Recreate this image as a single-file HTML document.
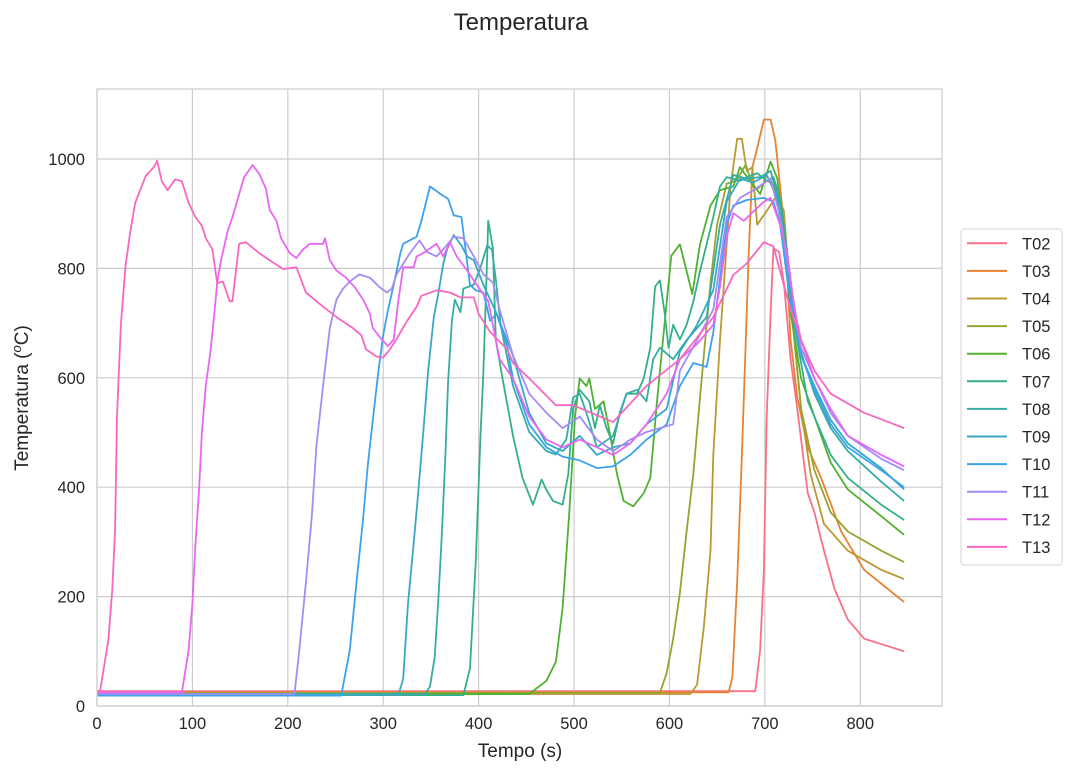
<!DOCTYPE html>
<html><head><meta charset="utf-8"><style>
body{margin:0;background:#fff;}
svg text{font-family:"Liberation Sans",Arial,sans-serif;fill:#262626;}
</style></head><body>
<svg id="chart" width="1072" height="771" viewBox="0 0 1072 771" xmlns="http://www.w3.org/2000/svg">
<rect width="1072" height="771" fill="#fff"/>
<text x="521" y="30" font-size="24" text-anchor="middle">Temperatura</text>
<g id="grid"></g>
<g id="series"></g>
<rect x="97" y="89" width="845" height="617" fill="none" stroke="#cccccc" stroke-width="1.2"/>
<g id="ticks"></g>
<text x="520" y="757" font-size="19" text-anchor="middle">Tempo (s)</text>
<text transform="translate(28,398) rotate(-90)" font-size="19" text-anchor="middle">Temperatura (<tspan font-style="italic" font-size="13" dy="-7">o</tspan><tspan dy="7">C)</tspan></text>
<g id="legend"></g>
</svg>
<script>
const xTicks = [0,100,200,300,400,500,600,700,800];
const yTicks = [0,200,400,600,800,1000];
const seriesNames = ["T02","T03","T04","T05","T06","T07","T08","T09","T10","T11","T12","T13"];
const seriesColors = ["#f77189","#e68332","#bb9832","#97a431","#50b131","#34af8a","#36ada4","#38a9c5","#3ba3ec","#a48cf4","#e866f4","#f668c2"];
const T02 = [[0,27],[690,27],[695,102],[699,249],[702,529],[706,718],[709,837],[715,830],[720,774],[727,634],[734,543],[745,389],[752,354],[762,284],[773,214],[787,158],[804,123],[846,100]];
const T03 = [[0,25],[662,25],[666,53],[671,228],[676,459],[680,669],[683,823],[687,985],[692,1020],[699,1072],[706,1072],[711,1034],[716,950],[722,844],[727,669],[734,564],[745,473],[759,417],[780,319],[804,249],[846,190]];
const T04 = [[0,22],[622,22],[629,39],[636,144],[643,284],[646,459],[653,669],[660,844],[664,950],[671,1037],[676,1037],[681,978],[687,985],[692,880],[702,905],[713,935],[720,905],[727,739],[738,543],[748,424],[762,333],[787,284],[822,249],[846,232]];
const T05 = [[0,24],[590,24],[597,60],[604,123],[611,207],[618,319],[625,424],[632,564],[643,774],[650,880],[660,955],[670,960],[680,990],[687,950],[692,945],[702,960],[709,955],[716,894],[724,820],[731,669],[738,543],[752,431],[769,354],[787,319],[822,284],[846,263]];
const T06 = [[0,20],[453,22],[471,46],[481,81],[488,179],[495,354],[501,529],[506,599],[513,585],[516,599],[522,543],[531,557],[538,494],[545,424],[552,375],[562,365],[573,389],[580,417],[587,557],[594,683],[602,823],[611,844],[618,795],[624,753],[632,844],[643,915],[653,943],[667,950],[674,985],[681,968],[695,936],[706,995],[713,965],[720,866],[727,720],[738,599],[752,529],[769,445],[787,396],[822,347],[846,313]];
const T07 = [[0,20],[384,20],[391,69],[397,265],[402,495],[405,612],[409,822],[410,887],[415,837],[418,669],[425,599],[436,494],[446,417],[457,368],[466,414],[471,395],[478,375],[488,368],[494,424],[499,543],[506,578],[516,557],[522,508],[527,550],[534,508],[541,480],[548,536],[555,571],[566,571],[573,599],[580,655],[585,767],[590,778],[595,718],[599,655],[604,697],[611,670],[618,697],[625,739],[632,795],[639,844],[646,894],[653,950],[660,967],[674,960],[681,967],[692,974],[702,960],[709,967],[716,929],[724,823],[731,697],[738,627],[745,557],[769,459],[787,417],[822,368],[846,340]];
const T08 = [[0,22],[344,22],[349,36],[354,89],[358,200],[361,298],[365,449],[368,593],[372,704],[375,743],[381,720],[384,763],[395,770],[402,802],[409,842],[414,834],[418,780],[423,697],[436,585],[453,501],[471,466],[481,460],[492,488],[499,564],[506,571],[513,536],[524,473],[541,494],[555,571],[566,578],[576,557],[583,634],[590,655],[604,634],[618,669],[639,711],[653,880],[667,971],[681,964],[695,967],[706,978],[716,915],[724,800],[734,669],[752,571],[769,508],[787,466],[822,410],[846,375]];
const T09 = [[0,21],[316,21],[321,50],[326,187],[332,298],[337,396],[342,501],[347,612],[353,711],[358,756],[363,809],[367,835],[374,861],[382,842],[388,822],[395,815],[405,770],[419,717],[436,640],[453,536],[471,480],[488,466],[506,494],[524,459],[541,473],[559,480],[576,515],[597,543],[611,648],[629,697],[646,760],[660,922],[674,964],[688,957],[702,971],[713,929],[724,774],[738,641],[752,585],[769,523],[787,480],[822,435],[846,396]];
const T10 = [[0,19],[256,19],[265,102],[272,226],[279,344],[284,442],[289,521],[295,612],[300,678],[305,724],[311,770],[318,828],[321,845],[335,858],[340,887],[349,950],[360,936],[368,927],[374,897],[382,894],[391,770],[397,760],[405,756],[412,704],[419,717],[430,658],[436,599],[453,515],[471,473],[488,456],[506,449],[524,435],[541,438],[559,459],[576,487],[597,515],[611,585],[625,627],[639,620],[646,683],[660,880],[667,915],[681,925],[699,929],[709,922],[716,880],[727,739],[738,641],[752,578],[769,515],[787,473],[822,431],[846,400]];
const T11 = [[0,22],[207,22],[212,102],[219,226],[225,344],[230,475],[237,586],[244,691],[251,743],[258,763],[265,776],[275,789],[286,783],[296,766],[304,756],[309,763],[314,789],[328,828],[338,851],[346,830],[356,822],[363,835],[374,858],[384,855],[395,822],[405,789],[415,774],[422,725],[436,641],[453,571],[471,536],[488,508],[506,529],[524,487],[541,466],[559,487],[576,501],[604,515],[611,613],[629,669],[646,725],[660,894],[674,929],[688,943],[706,964],[716,894],[727,774],[738,655],[752,599],[769,536],[787,494],[822,452],[846,431]];
const T12 = [[0,25],[89,25],[96,102],[100,187],[103,292],[107,396],[110,501],[114,586],[119,648],[123,717],[126,773],[130,815],[137,868],[142,894],[149,936],[154,966],[163,989],[170,973],[177,946],[181,907],[188,887],[193,855],[202,828],[209,819],[216,835],[223,845],[237,845],[239,855],[244,815],[251,796],[261,783],[270,766],[279,743],[286,717],[289,691],[298,671],[305,658],[311,670],[316,743],[321,802],[332,802],[335,822],[342,828],[356,845],[363,822],[370,848],[377,822],[388,796],[398,770],[410,740],[422,634],[436,599],[453,529],[471,487],[488,473],[506,487],[524,473],[541,459],[559,480],[576,515],[597,571],[611,634],[629,662],[646,697],[653,767],[660,858],[667,901],[678,887],[688,904],[699,922],[706,929],[716,880],[724,823],[731,725],[738,669],[752,599],[769,543],[787,494],[822,459],[846,438]];
const T13 = [[0,25],[3.5,30],[12,121],[16,213],[19,324],[21,530],[25,698],[30,806],[35,868],[40,920],[51,969],[60,986],[63,997],[68,959],[74,943],[82,963],[89,959],[96,920],[103,894],[110,878],[114,855],[121,835],[126,773],[132,776],[139,740],[142,740],[146,802],[149,845],[156,848],[170,828],[181,815],[195,799],[209,802],[219,756],[237,730],[251,711],[268,691],[277,678],[282,652],[293,639],[300,637],[307,652],[314,671],[325,704],[335,730],[340,750],[356,760],[370,756],[381,747],[395,747],[400,717],[412,684],[430,652],[436,627],[453,599],[481,550],[499,550],[541,519],[576,585],[611,634],[646,711],[667,788],[681,809],[699,848],[709,840],[716,795],[727,725],[738,669],[752,613],[769,571],[804,536],[846,508]];
const allSeries = [T02,T03,T04,T05,T06,T07,T08,T09,T10,T11,T12,T13];

const X0=97, X1=942, Y0=706, Y1=89, XMAX=885.7, YMAX=1128;
function xs(t){return X0+(t/XMAX)*(X1-X0);}
function ys(v){return Y0-(v/YMAX)*(Y0-Y1);}
const NS="http://www.w3.org/2000/svg";
const grid=document.getElementById('grid'), ticks=document.getElementById('ticks');
xTicks.forEach(t=>{
  const l=document.createElementNS(NS,'line');
  l.setAttribute('x1',xs(t));l.setAttribute('x2',xs(t));l.setAttribute('y1',Y1);l.setAttribute('y2',Y0);
  l.setAttribute('stroke','#cccccc');l.setAttribute('stroke-width','1.2');
  
  
  grid.appendChild(l);
  const tx=document.createElementNS(NS,'text');
  tx.setAttribute('x',xs(t));tx.setAttribute('y',729);tx.setAttribute('font-size','16.5');tx.setAttribute('text-anchor','middle');
  tx.textContent=t;
  
  
  ticks.appendChild(tx);
});
yTicks.forEach(v=>{
  const l=document.createElementNS(NS,'line');
  l.setAttribute('x1',X0);l.setAttribute('x2',X1);l.setAttribute('y1',ys(v));l.setAttribute('y2',ys(v));
  l.setAttribute('stroke','#cccccc');l.setAttribute('stroke-width','1.2');
  
  
  grid.appendChild(l);
  const tx=document.createElementNS(NS,'text');
  tx.setAttribute('x',85);tx.setAttribute('y',ys(v)+6);tx.setAttribute('font-size','16.5');tx.setAttribute('text-anchor','end');
  tx.textContent=v;
  
  
  ticks.appendChild(tx);
});
const sg=document.getElementById('series');
allSeries.forEach((s,i)=>{
  const p=document.createElementNS(NS,'polyline');
  p.setAttribute('points',s.map(d=>xs(d[0]).toFixed(1)+','+ys(d[1]).toFixed(1)).join(' '));
  p.setAttribute('fill','none');p.setAttribute('stroke',seriesColors[i]);p.setAttribute('stroke-width','1.8');
  p.setAttribute('stroke-linejoin','round');
  
  
  sg.appendChild(p);
});
const lg=document.getElementById('legend');
const box=document.createElementNS(NS,'rect');
box.setAttribute('x',961);box.setAttribute('y',229);box.setAttribute('width',101);box.setAttribute('height',336);
box.setAttribute('rx',3);box.setAttribute('fill','#fff');box.setAttribute('stroke','#d6d6d6');


lg.appendChild(box);
seriesNames.forEach((n,i)=>{
  const y=243.3+i*27.6;
  const l=document.createElementNS(NS,'line');
  l.setAttribute('x1',967);l.setAttribute('x2',1007);l.setAttribute('y1',y);l.setAttribute('y2',y);
  l.setAttribute('stroke',seriesColors[i]);l.setAttribute('stroke-width','2');
  
  
  lg.appendChild(l);
  const t=document.createElementNS(NS,'text');
  t.setAttribute('x',1022);t.setAttribute('y',y+6);t.setAttribute('font-size','16.5');
  t.textContent=n;
  
  
  lg.appendChild(t);
});
</script>
</body></html>
